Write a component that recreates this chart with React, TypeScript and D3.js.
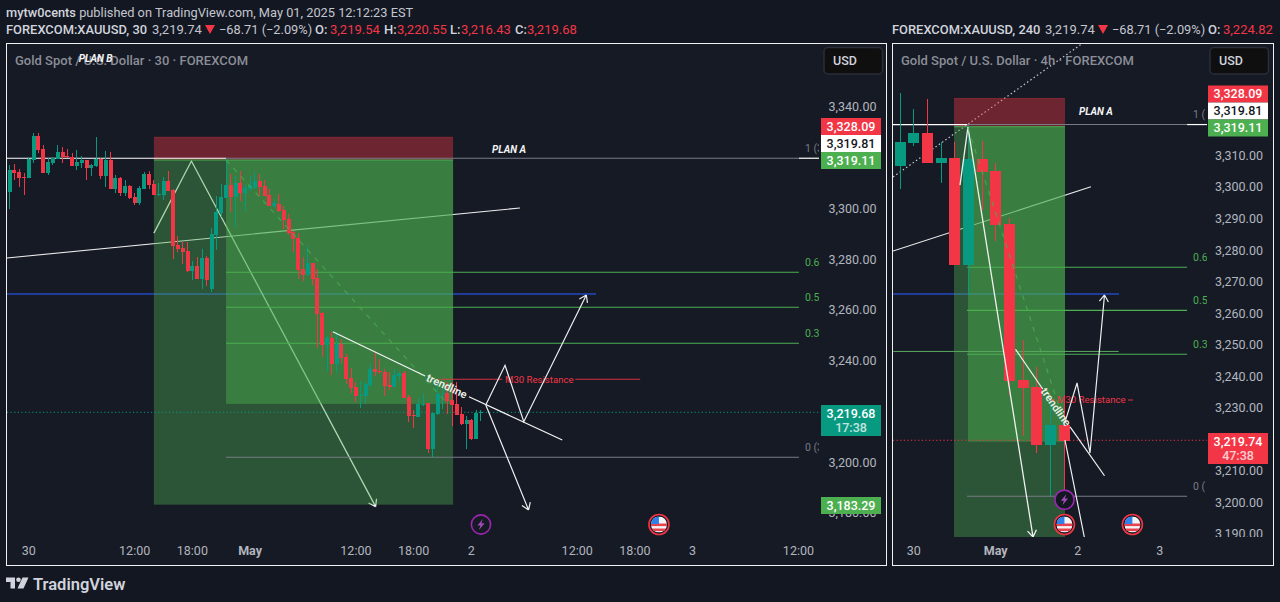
import React from 'react';
import * as d3 from 'd3';

type Candle = [number, number, number, number]; // open, high, low, close
type Pt = [number, number]; // bar index, price

const FONT = 'Roboto, sans-serif';
const RED = '#f23645';
const TEAL = '#089981';
const GREEN = '#4caf50';
const BLUE = '#1f3c98';

const candles30: Candle[] = [
  [3306.5, 3317.2, 3299.8, 3315.2], [3315.2, 3317.5, 3311.2, 3314.0], [3314.5, 3315.4, 3308.5, 3312.0],
  [3312.4, 3314.0, 3305.3, 3312.0], [3312.0, 3320.3, 3312.0, 3319.5], [3319.1, 3329.8, 3317.9, 3328.6],
  [3328.6, 3329.8, 3321.9, 3323.1], [3323.5, 3325.0, 3314.0, 3314.0], [3314.0, 3319.9, 3313.2, 3318.3],
  [3317.9, 3320.3, 3317.2, 3319.9], [3319.5, 3325.0, 3319.5, 3322.3], [3322.3, 3324.2, 3317.9, 3320.3],
  [3320.7, 3323.5, 3319.9, 3320.3], [3320.3, 3321.9, 3316.8, 3316.8], [3316.8, 3323.1, 3315.2, 3318.3],
  [3317.9, 3320.7, 3316.0, 3319.1], [3319.1, 3319.1, 3311.2, 3316.0], [3316.0, 3317.5, 3312.8, 3317.2],
  [3316.8, 3328.2, 3316.4, 3319.5], [3319.5, 3319.9, 3311.6, 3312.8], [3312.8, 3322.7, 3308.5, 3319.1],
  [3319.1, 3322.3, 3307.7, 3307.7], [3307.7, 3313.2, 3306.1, 3312.0], [3312.0, 3312.4, 3304.9, 3306.1],
  [3306.1, 3311.2, 3304.9, 3308.9], [3308.9, 3309.3, 3303.8, 3304.1], [3304.5, 3306.1, 3301.4, 3302.2],
  [3302.2, 3308.9, 3301.4, 3308.1], [3307.7, 3314.4, 3307.7, 3313.6], [3313.6, 3314.8, 3307.7, 3309.3],
  [3309.7, 3311.2, 3305.3, 3305.3], [3305.2, 3309.9, 3304.9, 3305.7], [3305.3, 3312.6, 3303.4, 3310.8],
  [3310.8, 3314.8, 3306.9, 3306.9], [3307.3, 3307.6, 3280.1, 3285.2], [3285.6, 3289.2, 3282.9, 3284.0],
  [3284.4, 3286.8, 3278.1, 3282.9], [3283.3, 3286.8, 3275.0, 3275.4], [3275.4, 3279.3, 3271.8, 3277.3],
  [3277.3, 3280.9, 3272.2, 3272.2], [3272.2, 3284.0, 3268.3, 3280.5], [3280.5, 3281.3, 3269.5, 3271.8],
  [3268.3, 3292.3, 3267.1, 3290.0], [3289.6, 3304.9, 3283.7, 3298.6], [3298.2, 3309.7, 3296.7, 3304.5],
  [3304.1, 3319.9, 3304.1, 3309.3], [3309.3, 3313.6, 3298.6, 3304.5], [3304.5, 3312.8, 3292.7, 3310.1],
  [3310.1, 3314.8, 3303.0, 3306.1], [3306.1, 3309.7, 3299.0, 3308.1], [3307.7, 3312.8, 3306.9, 3309.3],
  [3308.1, 3314.4, 3307.7, 3310.8], [3310.8, 3313.6, 3304.9, 3308.5], [3308.9, 3311.2, 3304.9, 3304.9],
  [3305.3, 3307.7, 3301.0, 3301.0], [3301.0, 3303.8, 3300.2, 3302.2], [3301.8, 3305.7, 3298.6, 3299.0],
  [3299.4, 3301.0, 3291.9, 3295.5], [3295.9, 3297.8, 3289.6, 3290.4], [3290.7, 3291.1, 3282.9, 3288.0],
  [3288.4, 3290.4, 3272.2, 3275.8], [3276.2, 3280.9, 3271.4, 3273.8], [3273.8, 3285.2, 3273.8, 3278.5],
  [3278.5, 3278.5, 3269.9, 3272.2], [3272.6, 3276.2, 3245.2, 3258.4], [3258.8, 3259.2, 3241.5, 3246.2],
  [3246.2, 3249.8, 3236.0, 3249.0], [3249.0, 3251.3, 3234.4, 3238.7], [3238.7, 3251.3, 3235.2, 3246.6],
  [3246.6, 3248.6, 3239.1, 3241.1], [3241.5, 3242.7, 3230.8, 3232.8], [3233.2, 3237.1, 3227.3, 3229.3],
  [3229.7, 3231.6, 3223.7, 3226.1], [3226.1, 3232.0, 3221.4, 3226.5], [3226.1, 3232.0, 3223.0, 3230.8],
  [3230.4, 3238.7, 3229.7, 3236.8], [3236.8, 3243.1, 3234.0, 3235.6], [3236.0, 3240.7, 3234.8, 3235.6],
  [3235.6, 3236.8, 3226.1, 3230.0], [3230.4, 3235.6, 3228.5, 3229.7], [3229.7, 3236.8, 3229.7, 3234.4],
  [3234.0, 3235.6, 3232.0, 3235.2], [3235.2, 3236.0, 3225.3, 3225.3], [3225.7, 3226.5, 3215.9, 3218.2],
  [3218.6, 3220.6, 3213.5, 3218.2], [3217.8, 3225.3, 3217.8, 3223.0], [3222.6, 3226.9, 3222.2, 3223.0],
  [3223.4, 3223.4, 3203.6, 3205.2], [3205.2, 3219.4, 3202.1, 3219.4], [3219.0, 3230.8, 3218.6, 3226.9],
  [3226.9, 3230.0, 3221.0, 3227.3], [3227.3, 3231.6, 3219.0, 3224.1], [3224.5, 3231.6, 3214.3, 3222.6],
  [3223.0, 3231.6, 3218.6, 3218.6], [3219.0, 3221.8, 3214.7, 3215.1], [3215.1, 3218.2, 3205.2, 3216.7],
  [3216.7, 3217.0, 3208.8, 3209.2], [3209.2, 3220.6, 3209.2, 3219.4], [3219.5, 3220.6, 3216.3, 3219.7],
];

const candles240: Candle[] = [
  [3306.7, 3329.8, 3299.4, 3314.3], [3314.0, 3324.7, 3313.0, 3317.1], [3317.1, 3327.9, 3307.6, 3307.6],
  [3307.6, 3314.4, 3301.3, 3309.2], [3309.2, 3314.4, 3275.3, 3275.3], [3275.3, 3319.7, 3265.8, 3308.9],
  [3308.9, 3314.6, 3292.7, 3304.8], [3305.1, 3307.6, 3282.9, 3288.0], [3288.3, 3290.2, 3234.1, 3238.5],
  [3238.8, 3251.5, 3221.1, 3236.3], [3236.6, 3243.0, 3215.7, 3218.2], [3218.2, 3231.6, 3202.1, 3224.6],
  [3224.6, 3234.1, 3204.0, 3219.5],
];

const ticks30 = [3340, 3300, 3280, 3260, 3240, 3200, 3180];
const ticks240 = [3310, 3300, 3290, 3280, 3270, 3260, 3250, 3240, 3230, 3210, 3200, 3190];
const timeTicks30: [number, string, boolean][] = [
  [4, '30', false], [26, '12:00', false], [38, '18:00', false], [50, 'May', true], [72, '12:00', false],
  [84, '18:00', false], [96, '2', false], [118, '12:00', false], [130, '18:00', false], [142, '3', false], [164, '12:00', false],
];
const timeTicks240: [number, string, boolean][] = [[1, '30', false], [7, 'May', true], [13, '2', false], [19, '3', false]];

const STOP = 3328.09;
const ENTRY = 3319.11;
const TARGET = 3183.29;
const FIB_ONE = 3319.81;
const LAST_30 = 3219.68;
const LAST_240 = 3219.74;

const fib30: [number, string, string][] = [
  [FIB_ONE, '1 (3', '#787b86'], [3274.9, '0.6', GREEN], [3261.1, '0.5', GREEN],
  [3246.9, '0.3', GREEN], [3202.0, '0 (3', '#787b86'],
];
const fib240: [number, string, string][] = [
  [FIB_ONE, '1 (', '#787b86'], [3274.6, '0.6', GREEN], [3260.9, '0.5', GREEN],
  [3247.0, '0.3', GREEN], [3202.0, '0 (', '#787b86'],
];

interface PaneConfig {
  id: string;
  left: number;
  right: number;
  axisRight: number;
  barX: [number, number]; // pixel of bar 0, px per bar
  priceY: [number, number, number]; // reference price, its pixel, px per dollar
  candles: Candle[];
  bodyWidth: number;
  ticks: number[];
  timeTicks: [number, string, boolean][];
  fib: [number, string, string][];
  fibBars: [number, number];
  fibLabelOffset: number;
  box: [number, number, number, number]; // first bar, last bar, inner start bar, inner bottom price
  blue: [number, number, number];
  trend: Pt[];
  zig: Pt[];
  trendA: Pt[];
  trendB: Pt[];
  trendText: [number, number, number];
  diag: Pt[];
  path: Pt[];
  arrow2: Pt[];
  resLines: Pt[][];
  resText: Pt;
  planA: Pt;
  zigOver: boolean;
}

const pane30: PaneConfig = {
  id: 'p30', left: 7, right: 819, axisRight: 881,
  barX: [9.6, 4.81], priceY: [3340, 107, 2.5375],
  candles: candles30, bodyWidth: 4, ticks: ticks30, timeTicks: timeTicks30,
  fib: fib30, fibBars: [45, 164.1], fibLabelOffset: 6,
  box: [30, 92.2, 45, 3223.0],
  blue: [3266.3, -0.6, 121.9],
  trend: [[-0.54, 3280.5], [106.1, 3300.2]],
  zig: [[30, 3290.3], [37.8, 3318.7], [76.1, 3182.5]],
  trendA: [[67.2, 3251.4], [86.4, 3234.0]],
  trendB: [[95.5, 3225.8], [114.9, 3208.8]],
  trendText: [90.9, 3230.0, 25],
  diag: [[45, 3319.1], [90.9, 3223.3]],
  path: [[99, 3222.6], [103, 3238.2], [106.9, 3216.0], [119.9, 3265.9]],
  arrow2: [[99, 3222.6], [107.9, 3181.2]],
  resLines: [[[89.2, 3232.7], [102.4, 3232.7]], [[117.6, 3232.7], [131.1, 3232.7]]],
  resText: [103, 3232.7],
  planA: [100.3, 3323.4],
  zigOver: false,
};

const pane240: PaneConfig = {
  id: 'p240', left: 893, right: 1207, axisRight: 1268,
  barX: [900, 13.67], priceY: [3310, 155.5, 3.155],
  candles: candles240, bodyWidth: 11, ticks: ticks240, timeTicks: timeTicks240,
  fib: fib240, fibBars: [4.9, 21], fibLabelOffset: 6,
  box: [3.95, 12.07, 4.97, 3219.3],
  blue: [3266.1, -0.5, 16],
  trend: [[-0.51, 3279.7], [13.97, 3300.1]],
  zig: [[4.39, 3300.6], [4.97, 3319.0], [9.73, 3189.1]],
  trendA: [[8.45, 3248.6], [10.44, 3236.0]],
  trendB: [[12.44, 3224.0], [14.96, 3208.5]],
  trendText: [11.41, 3230.3, 55],
  diag: [[4.97, 3318.7], [12.07, 3224.6]],
  path: [[12.07, 3225.5], [12.95, 3237.9], [13.9, 3215.7], [14.96, 3265.8]],
  arrow2: [[12.07, 3219.8], [13.6, 3186.5]],
  resLines: [[[11.05, 3232.5], [11.34, 3232.5]], [[16.68, 3232.5], [17.04, 3232.5]]],
  resText: [11.49, 3232.5],
  planA: [13.09, 3323.8],
  zigOver: true,
};

const fmt = d3.format(',.2f');

function arrowWings(from: [number, number], to: [number, number], size = 8) {
  const a = Math.atan2(from[1] - to[1], from[0] - to[0]);
  const w = (s: number) => `M${to[0] + size * Math.cos(a + s)},${to[1] + size * Math.sin(a + s)}L${to[0]},${to[1]}`;
  return w(0.6) + w(-0.6);
}

const PriceTag = ({ x, w, y, h, bg, color, lines }: { x: number; w: number; y: number; h: number; bg: string; color: string; lines: string[] }) => (
  <g>
    <rect x={x} y={y} width={w} height={h} fill={bg} />
    {lines.map((t, i) => (
      <text key={i} x={x + w / 2} y={y + 8.5 + i * 14} dy="0.35em" textAnchor="middle" fontSize={12.5} fontWeight={500}
        fill={color} opacity={i ? 0.75 : 1}>{t}</text>
    ))}
  </g>
);

const Lightning = ({ x, y, dark }: { x: number; y: number; dark?: boolean }) => (
  <g transform={`translate(${x},${y})`}>
    <circle r={9.6} fill={dark ? '#131722' : 'none'} stroke="#9c27b0" strokeWidth={1.6} />
    <path d="M1.8,-5.5L-3.6,1H-0.6L-2,5.5L3.6,-1.2H0.4Z" fill="#a24bbb" />
  </g>
);

const Flag = ({ x, y }: { x: number; y: number }) => (
  <g transform={`translate(${x},${y})`}>
    <circle r={10} fill="#131722" stroke={RED} strokeWidth={1.6} />
    <clipPath id={`flag${Math.round(x)}`}><circle r={8} /></clipPath>
    <g clipPath={`url(#flag${Math.round(x)})`}>
      <rect x={-8} y={-8} width={16} height={16} fill="#f4f4f4" />
      <rect x={-8} y={-1} width={16} height={2.6} fill="#e8424f" />
      <rect x={-8} y={4} width={16} height={2.6} fill="#e8424f" />
      <rect x={-8} y={-8} width={8} height={7.5} fill="#2f80ed" />
    </g>
  </g>
);

const Pane = ({ c }: { c: PaneConfig }) => {
  const x = d3.scaleLinear().domain([0, 1]).range([c.barX[0], c.barX[0] + c.barX[1]]);
  const y = d3.scaleLinear().domain([c.priceY[0], c.priceY[0] - 1]).range([c.priceY[1], c.priceY[1] + c.priceY[2]]);
  const line = d3.line<Pt>().x(d => x(d[0])).y(d => y(d[1]));
  const px = (p: Pt): [number, number] => [x(p[0]), y(p[1])];
  const [boxA, boxB, innerA, innerBottom] = c.box;
  const chartBottom = 537;

  const zig = (
    <path d={(line(c.zig) || '') + arrowWings(px(c.zig[1]), px(c.zig[2]))} fill="none" stroke="#f0f0f0" strokeWidth={1.3} />
  );
  const candles = c.candles.map((d, i) => {
    const [o, h, l, cl] = d;
    const col = cl >= o ? TEAL : RED;
    return (
      <g key={i} shapeRendering="crispEdges">
        <line x1={x(i)} x2={x(i)} y1={y(h)} y2={y(l)} stroke={col} />
        <rect x={x(i) - c.bodyWidth / 2} width={c.bodyWidth} y={y(Math.max(o, cl))}
          height={Math.max(1, Math.abs(y(o) - y(cl)))} fill={col} />
      </g>
    );
  });

  return (
    <g>
      <defs>
        <clipPath id={`${c.id}-chart`}><rect x={c.left} y={44} width={c.right - c.left} height={chartBottom - 44} /></clipPath>
        <clipPath id={`${c.id}-axis`}><rect x={c.right} y={44} width={70} height={chartBottom - 44} /></clipPath>
      </defs>
      <g clipPath={`url(#${c.id}-chart)`} fontFamily={FONT}>
        <line x1={x(c.blue[1])} x2={x(c.blue[2])} y1={y(c.blue[0])} y2={y(c.blue[0])} stroke={BLUE} strokeWidth={2} shapeRendering="crispEdges" />
        <path d={line(c.trend) || ''} fill="none" stroke="#ececec" strokeWidth={1.1} />
        {c.id === 'p240' && (
          <path d={line([[-0.51, 3303.2], [13.24, 3345.2]]) || ''} fill="none" stroke="#c8cad0" strokeWidth={1.2} strokeDasharray="1.5 2.5" />
        )}
        {!c.zigOver && zig}

        <rect x={x(boxA)} width={x(boxB) - x(boxA)} y={y(STOP)} height={y(ENTRY) - y(STOP)} fill={RED} fillOpacity={0.4} />
        <line x1={x(boxA)} x2={x(boxB)} y1={y(STOP)} y2={y(STOP)} stroke={RED} strokeOpacity={0.35} />
        <rect x={x(boxA)} width={x(boxB) - x(boxA)} y={y(ENTRY)} height={y(TARGET) - y(ENTRY)} fill={GREEN} fillOpacity={0.4} />
        <rect x={x(innerA)} width={x(boxB) - x(innerA)} y={y(ENTRY)} height={y(innerBottom) - y(ENTRY)} fill={GREEN} fillOpacity={0.45} />
        <line x1={x(boxA)} x2={x(boxB)} y1={y(ENTRY)} y2={y(ENTRY)} stroke={GREEN} strokeWidth={1.2} />

        {c.id === 'p240' && (
          <line x1={x(-0.5)} x2={x(16)} y1={y(3247.9)} y2={y(3247.9)} stroke="#5aa860" />
        )}
        <line x1={c.left} x2={x(innerA)} y1={y(FIB_ONE)} y2={y(FIB_ONE)} stroke="#fff" strokeWidth={1.2} />
        <line x1={x(c.fibBars[1])} x2={c.right} y1={y(FIB_ONE)} y2={y(FIB_ONE)} stroke="#fff" strokeWidth={1.2} />
        {c.fib.map(([p, label, col]) => (
          <g key={label}>
            <line x1={x(c.fibBars[0])} x2={x(c.fibBars[1])} y1={y(p)} y2={y(p)} stroke={col} strokeWidth={1.1} />
            <text x={x(c.fibBars[1]) + c.fibLabelOffset} y={y(p) - 10} dy="0.35em" fontSize={10.5} fill={col}>{label}</text>
          </g>
        ))}

        <line x1={c.left} x2={c.right} y1={y(c.id === 'p30' ? LAST_30 : LAST_240)} y2={y(c.id === 'p30' ? LAST_30 : LAST_240)}
          stroke={c.id === 'p30' ? TEAL : RED} strokeDasharray="1.2 2.4" />

        {candles}
        {c.zigOver && zig}

        <path d={line(c.diag) || ''} fill="none" stroke={GREEN} strokeOpacity={0.75} strokeWidth={1.2} strokeDasharray="5 6" />
        <path d={line(c.trendA) || ''} fill="none" stroke="#f4f4f4" strokeWidth={1.2} />
        <path d={line(c.trendB) || ''} fill="none" stroke="#f4f4f4" strokeWidth={1.2} />
        <text transform={`translate(${x(c.trendText[0])},${y(c.trendText[1])}) rotate(${c.trendText[2]})`} textAnchor="middle" dy="0.35em"
          fontSize={11} fontWeight={600} fill="#e8efe8">trendline</text>

        {c.resLines.map((l, i) => (
          <path key={i} d={line(l) || ''} stroke={RED} strokeOpacity={0.85} strokeWidth={1.1} fill="none" />
        ))}
        <text x={x(c.resText[0])} y={y(c.resText[1])} dy="0.35em" fontSize={9.6} fill={RED}>M30 Resistance</text>

        <path d={(line(c.path) || '') + arrowWings(px(c.path[2]), px(c.path[3]))} fill="none" stroke="#eceef0" strokeWidth={1.2} />
        <path d={(line(c.arrow2) || '') + arrowWings(px(c.arrow2[0]), px(c.arrow2[1]))} fill="none" stroke="#eceef0" strokeWidth={1.2} />

        <text x={x(c.planA[0])} y={y(c.planA[1])} dy="0.35em" fontSize={10} fontWeight={700} fontStyle="italic" fill="#f4f4f4">PLAN A</text>
      </g>

      <g clipPath={`url(#${c.id}-axis)`} fontFamily={FONT} fontSize={12.5} fill="#b2b5be">
        {c.ticks.map(t => (
          <text key={t} x={c.id === 'p30' ? 852.5 : 1239} y={y(t)} dy="0.35em" textAnchor="middle">{fmt(t)}</text>
        ))}
      </g>
      <g fontFamily={FONT} fontSize={12.5} fill="#b2b5be">
        {c.timeTicks.map(([b, label, bold], i) => (
          <text key={i} x={x(b)} y={551} dy="0.35em" textAnchor="middle" fontWeight={bold ? 700 : 400}>{label}</text>
        ))}
      </g>
    </g>
  );
};

export default function App() {
  const pr = { fontFamily: FONT };
  const y30 = d3.scaleLinear().domain([3340, 3339]).range([107, 109.5375]);
  const x30 = d3.scaleLinear().domain([0, 1]).range([9.6, 14.41]);
  const x240 = d3.scaleLinear().domain([0, 1]).range([900, 913.67]);
  const y240 = d3.scaleLinear().domain([3310, 3309]).range([155.5, 158.655]);

  return (
    <svg width={1280} height={602} viewBox="0 0 1280 602" style={{ position: 'fixed', left: 0, top: 0, display: 'block' }}>
      <rect width={1280} height={602} fill="#131722" />

      {/* header */}
      <g {...pr} fontSize={13} fill="#d1d4dc">
        <text x={6} y={17} fontSize={12.8}><tspan fontWeight={500}>mytw0cents</tspan><tspan fill="#c3c6ce"> published on TradingView.com, May 01, 2025 12:12:23 EST</tspan></text>
        <text x={6} y={34} fontWeight={500} fontSize={12.9}>FOREXCOM:XAUUSD, 30</text>
        <text x={152} y={34} fill="#c3c6ce">3,219.74</text>
        <path d="M205,25H215L210,34Z" fill={RED} />
        <text x={219} y={34} fill="#c3c6ce" fontSize={12.8}>−68.71 (−2.09%)</text>
        <text x={315} y={34} fontWeight={500}>O:</text><text x={330} y={34} fill={RED}>3,219.54</text>
        <text x={384} y={34} fontWeight={500}>H:</text><text x={397} y={34} fill={RED}>3,220.55</text>
        <text x={450} y={34} fontWeight={500}>L:</text><text x={461} y={34} fill={RED}>3,216.43</text>
        <text x={515} y={34} fontWeight={500}>C:</text><text x={527} y={34} fill={RED}>3,219.68</text>

        <text x={892} y={34} fontWeight={500} fontSize={12.9}>FOREXCOM:XAUUSD, 240</text>
        <text x={1045} y={34} fill="#c3c6ce">3,219.74</text>
        <path d="M1098,25H1108L1103,34Z" fill={RED} />
        <text x={1112} y={34} fill="#c3c6ce" fontSize={12.8}>−68.71 (−2.09%)</text>
        <text x={1208} y={34} fontWeight={500}>O:</text><text x={1223} y={34} fill={RED}>3,224.82</text>
      </g>

      {/* pane frames */}
      <rect x={6.5} y={43.5} width={880} height={522} fill="#161a25" stroke="#f0f0f0" />
      <rect x={892.5} y={43.5} width={381} height={522} fill="#161a25" stroke="#f0f0f0" />

      <Pane c={pane30} />
      <Pane c={pane240} />

      {/* pane titles */}
      <g {...pr} fontSize={13} fontWeight={500} fill="#8b8e97">
        <text x={15} y={65}>Gold Spot / U.S. Dollar · 30 · FOREXCOM</text>
        <text x={901} y={65}>Gold Spot / U.S. Dollar · 4h · FOREXCOM</text>
      </g>
      <text x={x30(14.4)} y={y30(3359.3)} dy="0.35em" {...pr} fontSize={10} fontWeight={700} fontStyle="italic" fill="#f4f4f4">PLAN B</text>

      {/* currency buttons */}
      {[824, 1210].map(bx => (
        <g key={bx}>
          <rect x={bx} y={47.5} width={58.5} height={26.5} rx={4} fill="#0f0f0f" stroke="#2a2e39" strokeWidth={1.5} />
          <text x={bx + 9} y={65} {...pr} fontSize={12.5} fontWeight={500} fill="#d1d4dc">USD</text>
        </g>
      ))}

      {/* price tags, left */}
      <g {...pr}>
        <PriceTag x={821} w={60} y={118} h={17} bg={RED} color="#fff" lines={[fmt(STOP)]} />
        <PriceTag x={821} w={60} y={135} h={17} bg="#fff" color="#131722" lines={[fmt(FIB_ONE)]} />
        <PriceTag x={821} w={60} y={152} h={17} bg={GREEN} color="#fff" lines={[fmt(ENTRY)]} />
        <PriceTag x={821} w={60} y={405} h={31} bg={TEAL} color="#fff" lines={[fmt(LAST_30), '17:38']} />
        <PriceTag x={821} w={60} y={497} h={17} bg={GREEN} color="#fff" lines={[fmt(TARGET)]} />

        <PriceTag x={1208} w={60} y={85.5} h={17} bg={RED} color="#fff" lines={[fmt(STOP)]} />
        <PriceTag x={1208} w={60} y={102.5} h={17} bg="#fff" color="#131722" lines={[fmt(FIB_ONE)]} />
        <PriceTag x={1208} w={60} y={119.5} h={17} bg={GREEN} color="#fff" lines={[fmt(ENTRY)]} />
        <PriceTag x={1208} w={60} y={433} h={31} bg={RED} color="#fff" lines={[fmt(LAST_240), '47:38']} />
      </g>

      {/* event markers */}
      <Lightning x={x30(98)} y={524.5} />
      <Flag x={x30(135)} y={524.5} />
      <Lightning x={x240(12.03)} y={y240(3200.9)} dark />
      <Flag x={x240(12.03)} y={524.5} />
      <Flag x={x240(17)} y={524.5} />

      {/* logo */}
      <g transform="translate(6,577.5)" fill="#d1d4dc">
        <path d="M0,0H9V11H4.5V4.5H0Z" />
        <circle cx={12.5} cy={2.3} r={2.3} />
        <path d="M16.5,0H22.5L17.5,11H11.5Z" />
      </g>
      <text x={33} y={590} {...pr} fontSize={16.5} fontWeight={600} fill="#d1d4dc">TradingView</text>
    </svg>
  );
}
